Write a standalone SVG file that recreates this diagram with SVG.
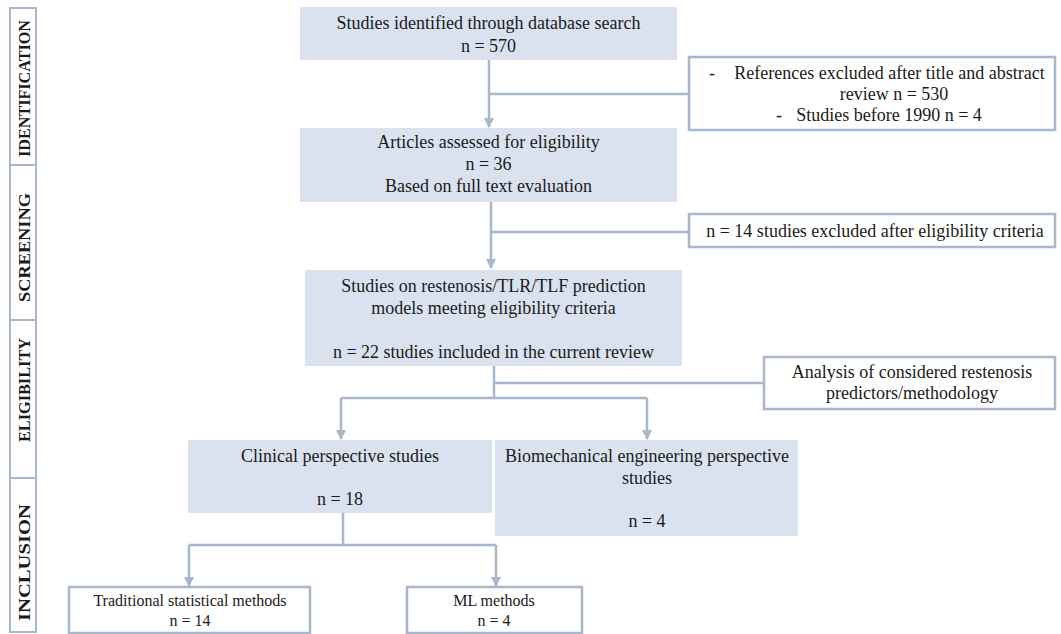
<svg xmlns="http://www.w3.org/2000/svg" width="1061" height="634" viewBox="0 0 1061 634">
<defs>
<style>
.t{font-family:"Liberation Serif","Times New Roman",serif;font-size:18px;fill:#1a1a1a;text-anchor:middle}
.s{font-size:16px}
.side{font-family:"Liberation Serif","Times New Roman",serif;font-size:17px;font-weight:bold;fill:#1a1a1a;text-anchor:middle}
.fb{fill:#dbe2ef;stroke:none}
.wb{fill:#ffffff;stroke:#a9b7cc;stroke-width:2.5}
.sb{fill:#ffffff;stroke:#a9b7cc;stroke-width:2}
.c{fill:none;stroke:#a9b7cc;stroke-width:2.5}
</style>
<marker id="ah" viewBox="0 0 10 10" refX="9" refY="5" markerWidth="4" markerHeight="4" orient="auto" markerUnits="strokeWidth">
<path d="M0,0 L10,5 L0,10 z" fill="#a9b7cc"/>
</marker>
</defs>
<rect width="1061" height="634" fill="#ffffff"/>

<g id="side">
<g id="side-identification"><rect class="sb" x="10" y="8" width="26" height="157"/><text class="side" transform="translate(30,88.5) rotate(-90)" textLength="137" lengthAdjust="spacingAndGlyphs">IDENTIFICATION</text></g>
<g id="side-screening"><rect class="sb" x="10" y="165" width="26" height="155"/><text class="side" transform="translate(30,247.5) rotate(-90)" textLength="109" lengthAdjust="spacingAndGlyphs">SCREENING</text></g>
<g id="side-eligibility"><rect class="sb" x="10" y="320" width="26" height="158"/><text class="side" transform="translate(30,390) rotate(-90)" textLength="104" lengthAdjust="spacingAndGlyphs">ELIGIBILITY</text></g>
<g id="side-inclusion"><rect class="sb" x="10" y="478" width="26" height="154"/><text class="side" transform="translate(30,562.5) rotate(-90)" textLength="117" lengthAdjust="spacingAndGlyphs">INCLUSION</text></g>
</g>

<g id="connectors">
<path class="c" d="M489,60 V127" marker-end="url(#ah)"/>
<path class="c" d="M489,94 H689"/>
<path class="c" d="M491,202 V268" marker-end="url(#ah)"/>
<path class="c" d="M491,232 H689"/>
<path class="c" d="M494,366 V398"/>
<path class="c" d="M494,383 H764"/>
<path class="c" d="M341,398 H647"/>
<path class="c" d="M341,398 V439" marker-end="url(#ah)"/>
<path class="c" d="M647,398 V439" marker-end="url(#ah)"/>
<path class="c" d="M343,513 V545"/>
<path class="c" d="M189,545 H496"/>
<path class="c" d="M189,545 V586" marker-end="url(#ah)"/>
<path class="c" d="M496,545 V586" marker-end="url(#ah)"/>
</g>

<g id="n-identified">
<rect class="fb" x="300" y="7" width="377" height="53"/>
<text class="t" x="488.5" y="29">Studies identified through database search</text>
<text class="t" x="488.5" y="52">n = 570</text>
</g>

<g id="n-excluded1">
<rect class="wb" x="689" y="57" width="366" height="73"/>
<text class="t" x="889.5" y="79">References excluded after title and abstract</text>
<text class="t" x="712" y="79">-</text>
<text class="t" x="894" y="100">review n = 530</text>
<text class="t" x="779" y="121">-</text>
<text class="t" x="889" y="121">Studies before 1990 n = 4</text>
</g>

<g id="n-assessed">
<rect class="fb" x="300" y="128" width="377" height="74"/>
<text class="t" x="488.5" y="148">Articles assessed for eligibility</text>
<text class="t" x="488.5" y="170">n = 36</text>
<text class="t" x="488.5" y="192">Based on full text evaluation</text>
</g>

<g id="n-excluded2">
<rect class="wb" x="689" y="214" width="366" height="33"/>
<text class="t" x="875" y="237">n = 14 studies excluded after eligibility criteria</text>
</g>

<g id="n-included">
<rect class="fb" x="305" y="270" width="377" height="96"/>
<text class="t" x="493.5" y="292">Studies on restenosis/TLR/TLF prediction</text>
<text class="t" x="493.5" y="314">models meeting eligibility criteria</text>
<text class="t" x="493.5" y="358">n = 22 studies included in the current review</text>
</g>

<g id="n-analysis">
<rect class="wb" x="764" y="357" width="291" height="52"/>
<text class="t" x="912" y="378">Analysis of considered restenosis</text>
<text class="t" x="912" y="399">predictors/methodology</text>
</g>

<g id="n-clinical">
<rect class="fb" x="188" y="440" width="304" height="73"/>
<text class="t" x="340" y="462">Clinical perspective studies</text>
<text class="t" x="340" y="505">n = 18</text>
</g>

<g id="n-biomech">
<rect class="fb" x="495" y="440" width="303" height="96"/>
<text class="t" x="647" y="462">Biomechanical engineering perspective</text>
<text class="t" x="647" y="484">studies</text>
<text class="t" x="647" y="527">n = 4</text>
</g>

<g id="n-traditional">
<rect class="wb" x="69" y="587" width="241" height="46"/>
<text class="t s" x="190" y="606">Traditional statistical methods</text>
<text class="t s" x="190" y="626">n = 14</text>
</g>

<g id="n-ml">
<rect class="wb" x="407" y="587" width="175" height="46"/>
<text class="t s" x="494" y="606">ML methods</text>
<text class="t s" x="494" y="626">n = 4</text>
</g>
</svg>
